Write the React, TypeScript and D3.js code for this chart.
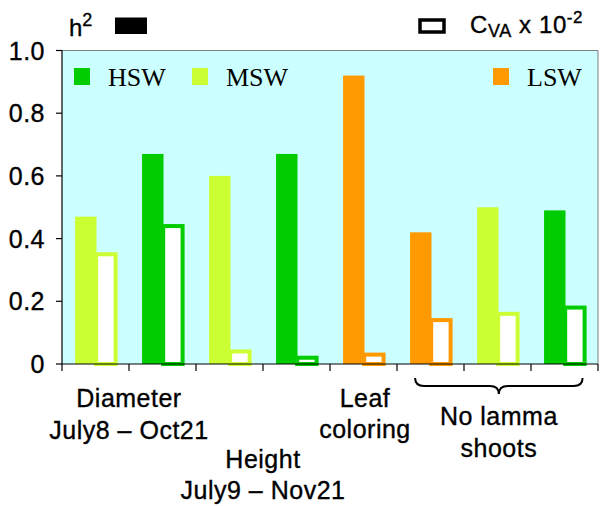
import * as d3 from "d3";

// bars, left to right
const categories = ["dia-MSW", "dia-HSW", "hgt-MSW", "hgt-HSW", "leaf-LSW1", "leaf-LSW2", "nl-MSW", "nl-HSW"];
const groups = ["MSW", "HSW", "MSW", "HSW", "LSW", "LSW", "MSW", "HSW"];
const h2Values = [0.47, 0.67, 0.6, 0.67, 0.92, 0.42, 0.5, 0.49];
const cvaValues = [0.35, 0.44, 0.04, 0.02, 0.03, 0.14, 0.16, 0.18];
const yTicks = [0, 0.2, 0.4, 0.6, 0.8, 1.0];
const yTickLabels = ["0", "0.2", "0.4", "0.6", "0.8", "1.0"];
const legendGroups = ["HSW", "MSW", "LSW"];
const colors: Record<string, string> = { HSW: "#00cc00", MSW: "#ccff33", LSW: "#ff9900" };

const diameterLabel = ["Diameter", "July8 – Oct21"];
const heightLabel = ["Height", "July9 – Nov21"];
const leafLabel = ["Leaf", "coloring"];
const shootsLabel = ["No lamma", "shoots"];

const W = 600;
const H = 506;
const M = { left: 62, right: 2, top: 50.5, bottom: 142 };

const ARIAL = "'Liberation Sans', Arial, sans-serif";
const TIMES = "'Liberation Serif', 'Times New Roman', serif";

export default function App() {
  const x = d3.scaleBand<string>().domain(categories).range([M.left, W - M.right]);
  const y = d3.scaleLinear().domain([0, 1]).range([H - M.bottom, M.top]);
  const bw = x.bandwidth();
  const y0 = y(0);

  const mid = (i: number, j: number) => (x(categories[i])! + x(categories[j])! + bw) / 2;

  // brace under the last three bars
  const bx1 = x(categories[5])! + bw * 0.27;
  const bx2 = x(categories[7])! + bw * 0.77;
  const bt = (bx1 + bx2) / 2;
  const byTop = y0 + 14;
  const byMid = y0 + 22;
  const byTip = y0 + 30;
  const brace = `M${bx1},${byTop} Q${bx1},${byMid} ${bx1 + 9},${byMid} L${bt - 9},${byMid} Q${bt},${byMid} ${bt},${byTip} Q${bt},${byMid} ${bt + 9},${byMid} L${bx2 - 9},${byMid} Q${bx2},${byMid} ${bx2},${byTop}`;

  // slight stroke to get the heavier look of the original text
  const textStyle = { fontFamily: ARIAL, fontSize: 25, letterSpacing: 0.5, stroke: "#000", strokeWidth: 0.35 } as const;

  return (
    <svg width={W} height={H} style={{ position: "absolute", left: 0, top: 0, background: "#fff" }}>
      {/* plot background */}
      <rect x={M.left} y={M.top} width={W - M.right - M.left} height={y0 - M.top} fill="#ccffff" />
      <line x1={M.left} x2={W - M.right} y1={M.top} y2={M.top} stroke="#808080" strokeWidth={1} />
      <line x1={W - M.right} x2={W - M.right} y1={M.top} y2={y0} stroke="#808080" strokeWidth={1} />

      {/* h2 bars */}
      {categories.map((c, i) => (
        <rect
          key={"h" + c}
          x={x(c)! + bw * 0.195}
          y={y(h2Values[i])}
          width={bw * 0.32}
          height={y0 - y(h2Values[i])}
          fill={colors[groups[i]]}
        />
      ))}
      {/* CVA bars */}
      {categories.map((c, i) => (
        <rect
          key={"c" + c}
          x={x(c)! + bw * 0.51}
          y={y(cvaValues[i])}
          width={bw * 0.29}
          height={y0 - y(cvaValues[i])}
          fill="#fff"
          stroke={colors[groups[i]]}
          strokeWidth={4}
        />
      ))}

      {/* axes */}
      <line x1={M.left} x2={M.left} y1={M.top} y2={y0} stroke="#000" strokeWidth={1.2} />
      <line x1={M.left} x2={W - M.right} y1={y0} y2={y0} stroke="#000" strokeWidth={1.2} />
      {yTicks.map((t, i) => (
        <g key={"yt" + t}>
          <line x1={M.left - 6} x2={M.left} y1={y(t)} y2={y(t)} stroke="#000" strokeWidth={1.2} />
          <text x={45} y={y(t)} dy="0.36em" textAnchor="end" style={textStyle}>
            {yTickLabels[i]}
          </text>
        </g>
      ))}
      {[...categories.map((c) => x(c)!), W - M.right].map((v) => (
        <line key={"xt" + v} x1={v} x2={v} y1={y0} y2={y0 + 7} stroke="#000" strokeWidth={1.2} />
      ))}

      {/* inner legend */}
      {legendGroups.map((g, i) => {
        const lx = [74, 192, 493][i];
        return (
          <g key={g}>
            <rect x={lx} y={68} width={16} height={17} fill={colors[g]} />
            <text x={lx + 34} y={85.5} style={{ fontFamily: TIMES, fontSize: 26 }}>
              {g}
            </text>
          </g>
        );
      })}

      {/* top legend */}
      <text x={69} y={36} style={{ ...textStyle, fontSize: 24, letterSpacing: 0 }}>
        h<tspan fontSize={18} dy={-10}>2</tspan>
      </text>
      <rect x={115} y={17.5} width={32} height={16.5} fill="#000" />
      <rect x={420} y={20} width={24} height={12} fill="#fff" stroke="#000" strokeWidth={3.5} />
      <text x={470} y={33} style={{ ...textStyle, fontSize: 24, letterSpacing: 0.6 }}>
        C<tspan fontSize={18} dy={4}>VA</tspan>
        <tspan dy={-4}> x 10</tspan>
        <tspan fontSize={17} dy={-10}>-2</tspan>
      </text>

      {/* category labels */}
      {diameterLabel.map((s, k) => (
        <text key={s} x={mid(0, 1)} y={[406.7, 439.3][k]} textAnchor="middle" style={textStyle}>
          {s}
        </text>
      ))}
      {heightLabel.map((s, k) => (
        <text key={s} x={mid(2, 3)} y={[467.7, 499.3][k]} textAnchor="middle" style={textStyle}>
          {s}
        </text>
      ))}
      {leafLabel.map((s, k) => (
        <text key={s} x={mid(4, 4) + 1.5} y={[406.7, 437.7][k]} textAnchor="middle" style={textStyle}>
          {s}
        </text>
      ))}
      <path d={brace} fill="none" stroke="#000" strokeWidth={2} />
      {shootsLabel.map((s, k) => (
        <text key={s} x={bt} y={[425.3, 456.7][k]} textAnchor="middle" style={textStyle}>
          {s}
        </text>
      ))}
    </svg>
  );
}
